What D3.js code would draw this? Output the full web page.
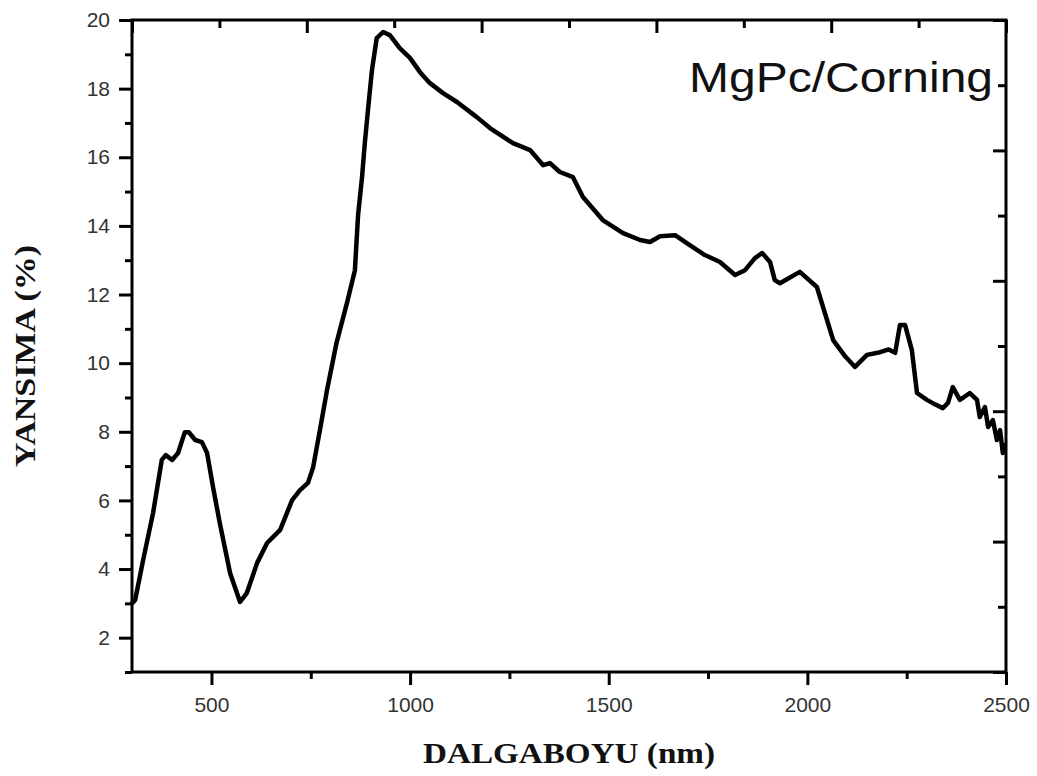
<!DOCTYPE html>
<html>
<head>
<meta charset="utf-8">
<script src="https://cdn.jsdelivr.net/npm/d3@7"></script>
<style>
  body { margin: 0; background: #fff; }
  svg { display: block; }
  .tick text { font-family: "Liberation Sans", Arial, sans-serif; fill: #333; }
</style>
</head>
<body>
<div class="chart"></div>
<script>
// wavelength (nm) and reflectance (%)
var wavelength = [300, 308, 328, 353, 375, 385, 401, 416, 433, 443, 459, 476, 489, 504, 521, 547, 572, 589, 615, 640,
  673, 703, 723, 743, 756, 773, 791, 815, 841, 861, 869, 879, 886, 894, 904, 916, 932, 949, 974, 1000, 1025,
  1050, 1083, 1118, 1168, 1201, 1259, 1302, 1335, 1352, 1377, 1410, 1435, 1485, 1536, 1579, 1604, 1629, 1667, 1704, 1742,
  1780, 1818, 1843, 1868, 1886, 1906, 1918, 1931, 1981, 2024, 2065, 2095, 2120, 2150, 2183, 2205, 2221, 2233, 2246, 2263, 2276, 2301,
  2321, 2341, 2354, 2366, 2384, 2409, 2427, 2434, 2447, 2455, 2467, 2477, 2485, 2492, 2497];
var reflectance = [3.0, 3.1, 4.26, 5.63, 7.18, 7.32, 7.18, 7.38, 7.99, 7.99, 7.76, 7.70, 7.38, 6.39, 5.34, 3.88, 3.04, 3.30, 4.18, 4.76,
  5.14, 6.01, 6.30, 6.51, 6.97, 8.05, 9.22, 10.6, 11.75, 12.7, 14.3, 15.42, 16.41, 17.38, 18.54, 19.47, 19.65, 19.56, 19.18, 18.89, 18.48,
  18.16, 17.87, 17.61, 17.17, 16.85, 16.41, 16.21, 15.77, 15.83, 15.57, 15.42, 14.84, 14.17, 13.79, 13.59, 13.53, 13.7, 13.73, 13.44, 13.15,
  12.95, 12.57, 12.71, 13.06, 13.21, 12.95, 12.42, 12.33, 12.66, 12.22, 10.67, 10.2, 9.89, 10.24, 10.32, 10.4, 10.3, 11.11, 11.11, 10.38, 9.13, 8.93,
  8.8, 8.69, 8.84, 9.3, 8.93, 9.13, 8.93, 8.43, 8.72, 8.14, 8.34, 7.76, 8.05, 7.38, 7.61];

var xMajor = [500, 1000, 1500, 2000, 2500];
var xMinor = [750, 1250, 1750, 2250];
var yMajor = [2, 4, 6, 8, 10, 12, 14, 16, 18, 20];
var yMinor = [1, 3, 5, 7, 9, 11, 13, 15, 17, 19];
// top and right frame ticks (mirrored axes with their own spacing)
var frameMajor = [0, 2, 4, 6, 8, 10];
var frameMinor = [1, 3, 5, 7, 9];

var data = wavelength.map(function(w, i) { return { x: w, y: reflectance[i] }; });

var svgWidth = 1037;
var svgHeight = 776;
var margin = { top: 20, right: 31, bottom: 104, left: 132 };
var width = svgWidth - margin.left - margin.right;
var height = svgHeight - margin.top - margin.bottom;

var svg = d3.select(".chart")
  .append("svg")
  .attr("width", svgWidth)
  .attr("height", svgHeight);

var chartGroup = svg.append("g")
  .attr("transform", `translate(${margin.left}, ${margin.top})`);

var xScale = d3.scaleLinear().domain([300, 2500]).range([0, width]);
var yScale = d3.scaleLinear().domain([1, 20]).range([height, 0]);
var topScale = d3.scaleLinear().domain([0, 10]).range([0, width]);
var rightScale = d3.scaleLinear().domain([0, 10]).range([height, 0]);

function styleTicks(g) {
  g.select(".domain").remove();
  g.selectAll(".tick line").attr("stroke", "#000").attr("stroke-width", 3);
}

// bottom axis
chartGroup.append("g")
  .attr("transform", `translate(0, ${height})`)
  .call(d3.axisBottom(xScale).tickValues(xMinor).tickSize(7).tickFormat(""))
  .call(styleTicks);
chartGroup.append("g")
  .attr("transform", `translate(0, ${height})`)
  .call(d3.axisBottom(xScale).tickValues(xMajor).tickSize(13).tickPadding(12).tickFormat(d3.format("d")))
  .call(styleTicks)
  .selectAll("text").attr("font-size", 21);

// left axis
chartGroup.append("g")
  .call(d3.axisLeft(yScale).tickValues(yMinor).tickSize(7).tickFormat(""))
  .call(styleTicks);
chartGroup.append("g")
  .call(d3.axisLeft(yScale).tickValues(yMajor).tickSize(13).tickPadding(9).tickFormat(d3.format("d")))
  .call(styleTicks)
  .selectAll("text").attr("font-size", 21);

// top axis, ticks pointing inward
chartGroup.append("g")
  .call(d3.axisBottom(topScale).tickValues(frameMinor).tickSize(8).tickFormat(""))
  .call(styleTicks);
chartGroup.append("g")
  .call(d3.axisBottom(topScale).tickValues(frameMajor).tickSize(13).tickFormat(""))
  .call(styleTicks);

// right axis, ticks pointing inward
chartGroup.append("g")
  .attr("transform", `translate(${width}, 0)`)
  .call(d3.axisLeft(rightScale).tickValues(frameMinor).tickSize(8).tickFormat(""))
  .call(styleTicks);
chartGroup.append("g")
  .attr("transform", `translate(${width}, 0)`)
  .call(d3.axisLeft(rightScale).tickValues(frameMajor).tickSize(13).tickFormat(""))
  .call(styleTicks);

// frame
chartGroup.append("rect")
  .attr("width", width)
  .attr("height", height)
  .attr("fill", "none")
  .attr("stroke", "#000")
  .attr("stroke-width", 3);

// the curve
var line = d3.line()
  .x(d => xScale(d.x))
  .y(d => yScale(d.y));

chartGroup.append("path")
  .datum(data)
  .attr("d", line)
  .attr("fill", "none")
  .attr("stroke", "#000")
  .attr("stroke-width", 4.5)
  .attr("stroke-linejoin", "round")
  .attr("stroke-linecap", "round");

// sample label
chartGroup.append("text")
  .attr("x", 557)
  .attr("y", 72)
  .attr("font-family", "'Liberation Sans', Arial, sans-serif")
  .attr("font-size", 42)
  .attr("textLength", 304)
  .attr("lengthAdjust", "spacingAndGlyphs")
  .attr("fill", "#111")
  .text("MgPc/Corning");

// axis titles
svg.append("text")
  .attr("x", 423)
  .attr("y", 763)
  .attr("font-family", "'Liberation Serif', 'Times New Roman', serif")
  .attr("font-weight", "bold")
  .attr("font-size", 29)
  .attr("textLength", 292)
  .attr("lengthAdjust", "spacingAndGlyphs")
  .attr("fill", "#111")
  .text("DALGABOYU (nm)");

svg.append("text")
  .attr("transform", "translate(35, 467) rotate(-90)")
  .attr("x", 0)
  .attr("y", 0)
  .attr("font-family", "'Liberation Serif', 'Times New Roman', serif")
  .attr("font-weight", "bold")
  .attr("font-size", 29)
  .attr("textLength", 222)
  .attr("lengthAdjust", "spacingAndGlyphs")
  .attr("fill", "#111")
  .text("YANSIMA (%)");
</script>
</body>
</html>
